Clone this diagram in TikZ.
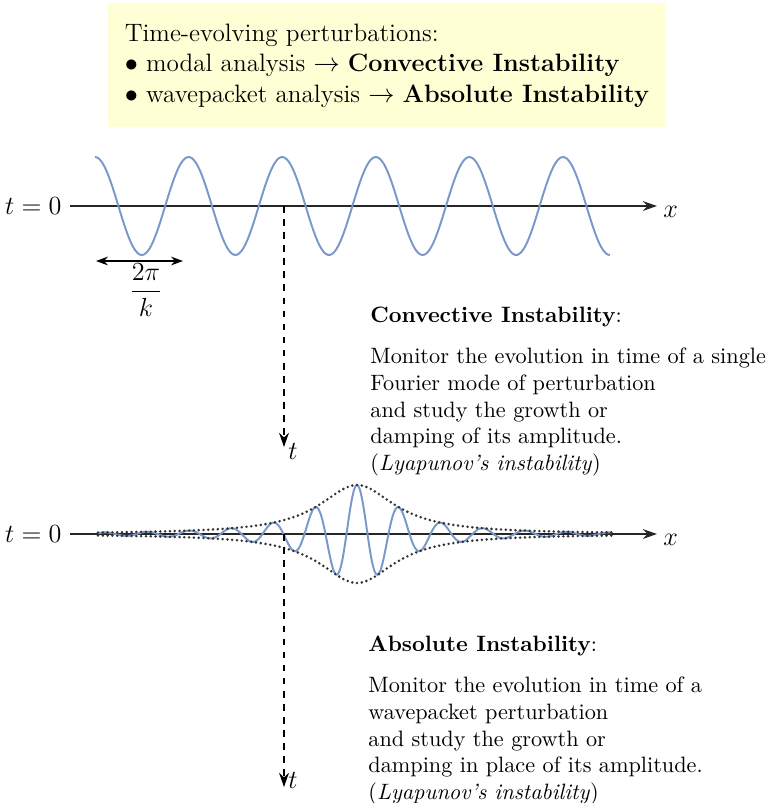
\documentclass[tikz,border=0pt]{standalone}
\usepackage{amsmath}
\usepackage{xcolor}
\usepackage{tikz}
\usetikzlibrary{arrows.meta}
\definecolor{wavecol}{RGB}{122,152,202}
\definecolor{boxcol}{RGB}{255,255,214}
\newcommand{\pxu}{0.4587pt}

\begin{document}
\begin{tikzpicture}[
    x=\pxu, y=-\pxu,
    >={Stealth[length=6.5pt, width=4.5pt]},
    intro/.style={fill=boxcol, anchor=north west, align=left,
                  inner sep=0pt, minimum width=255.5pt, minimum height=56.9pt,
                  font=\fontsize{11.55}{14}\selectfont},
    axis/.style={->, line width=0.65pt, black!85},
    wave/.style={wavecol, line width=0.9pt},
    envelope/.style={line width=1.3pt, line cap=round, dash pattern=on 0pt off 2.2pt, black!80},
    tdash/.style={->, dashed, line width=0.55pt},
    desc/.style={align=left, anchor=north west, inner sep=0pt, font=\fontsize{10.2}{12.3}\selectfont},
    lab/.style={inner sep=0pt, font=\fontsize{11.5}{14}\selectfont}
]
    \useasboundingbox (0,0) rectangle (768,803);

    % Intro box
    \node[intro] (intro) at (108,3) {Time-evolving perturbations:\\
        $\bullet$ modal analysis $\rightarrow$ \textbf{Convective Instability}\\
        $\bullet$ wavepacket analysis $\rightarrow$ \textbf{Absolute Instability}};

    % Single Fourier mode
    \coordinate (a0) at (70,206);
    \coordinate (a1) at (657,206);
    \draw[axis] (a0) -- (a1);
    \draw[wave] plot[domain=95:610, samples=240, smooth] (\x, {206-49*cos(3.84615*(\x-95))});
    \node[lab, anchor=west] (xlab1) at (663,212) {$x$};
    \node[lab, anchor=east] (tzero1) at (62,206) {$t=0$};

    % Wavelength
    \coordinate (w0) at (96,261);
    \coordinate (w1) at (183,261);
    \draw[<->, line width=0.6pt, >={Stealth[length=5.5pt, width=4pt]}] (w0) -- (w1);
    \node[lab] (lambda) at (146,290) {$\dfrac{2\pi}{k}$};

    % Time direction
    \coordinate (o1) at (284,206);
    \coordinate (t1) at (284,447);
    \draw[tdash] (o1) -- (t1);
    \node[lab] (tlab1) at (293,451) {$t$};

    % Convective description
    \node[desc] (conv) at (370,307) {\textbf{Convective Instability}:\\[6.3pt]
        Monitor the evolution in time of a single\\
        Fourier mode of perturbation\\
        and study the growth or\\
        damping of its amplitude.\\
        (\textit{Lyapunov's instability})};

    % Wavepacket
    \coordinate (b0) at (70,534);
    \coordinate (b1) at (657,534);
    \draw[axis] (b0) -- (b1);
    \draw[wave] plot[domain=98:612, samples=400, smooth] (\x, {534-49*cos(8.5714*(\x-357))/(1+((\x-357)/46)^2)});
    \draw[envelope] plot[domain=98:612, samples=150, smooth] (\x, {534-49/(1+((\x-357)/46)^2)});
    \draw[envelope] plot[domain=98:612, samples=150, smooth] (\x, {534+49/(1+((\x-357)/46)^2)});
    \node[lab, anchor=west] (xlab2) at (663,540) {$x$};
    \node[lab, anchor=east] (tzero2) at (62,534) {$t=0$};

    % Time direction
    \coordinate (o2) at (284,534);
    \coordinate (t2) at (284,787);
    \draw[tdash] (o2) -- (t2);
    \node[lab] (tlab2) at (293,780) {$t$};

    % Absolute description
    \node[desc] (abs) at (368,636) {\textbf{Absolute Instability}:\\[6.3pt]
        Monitor the evolution in time of a\\
        wavepacket perturbation\\
        and study the growth or\\
        damping in place of its amplitude.\\
        (\textit{Lyapunov's instability})};
\end{tikzpicture}
\end{document}
